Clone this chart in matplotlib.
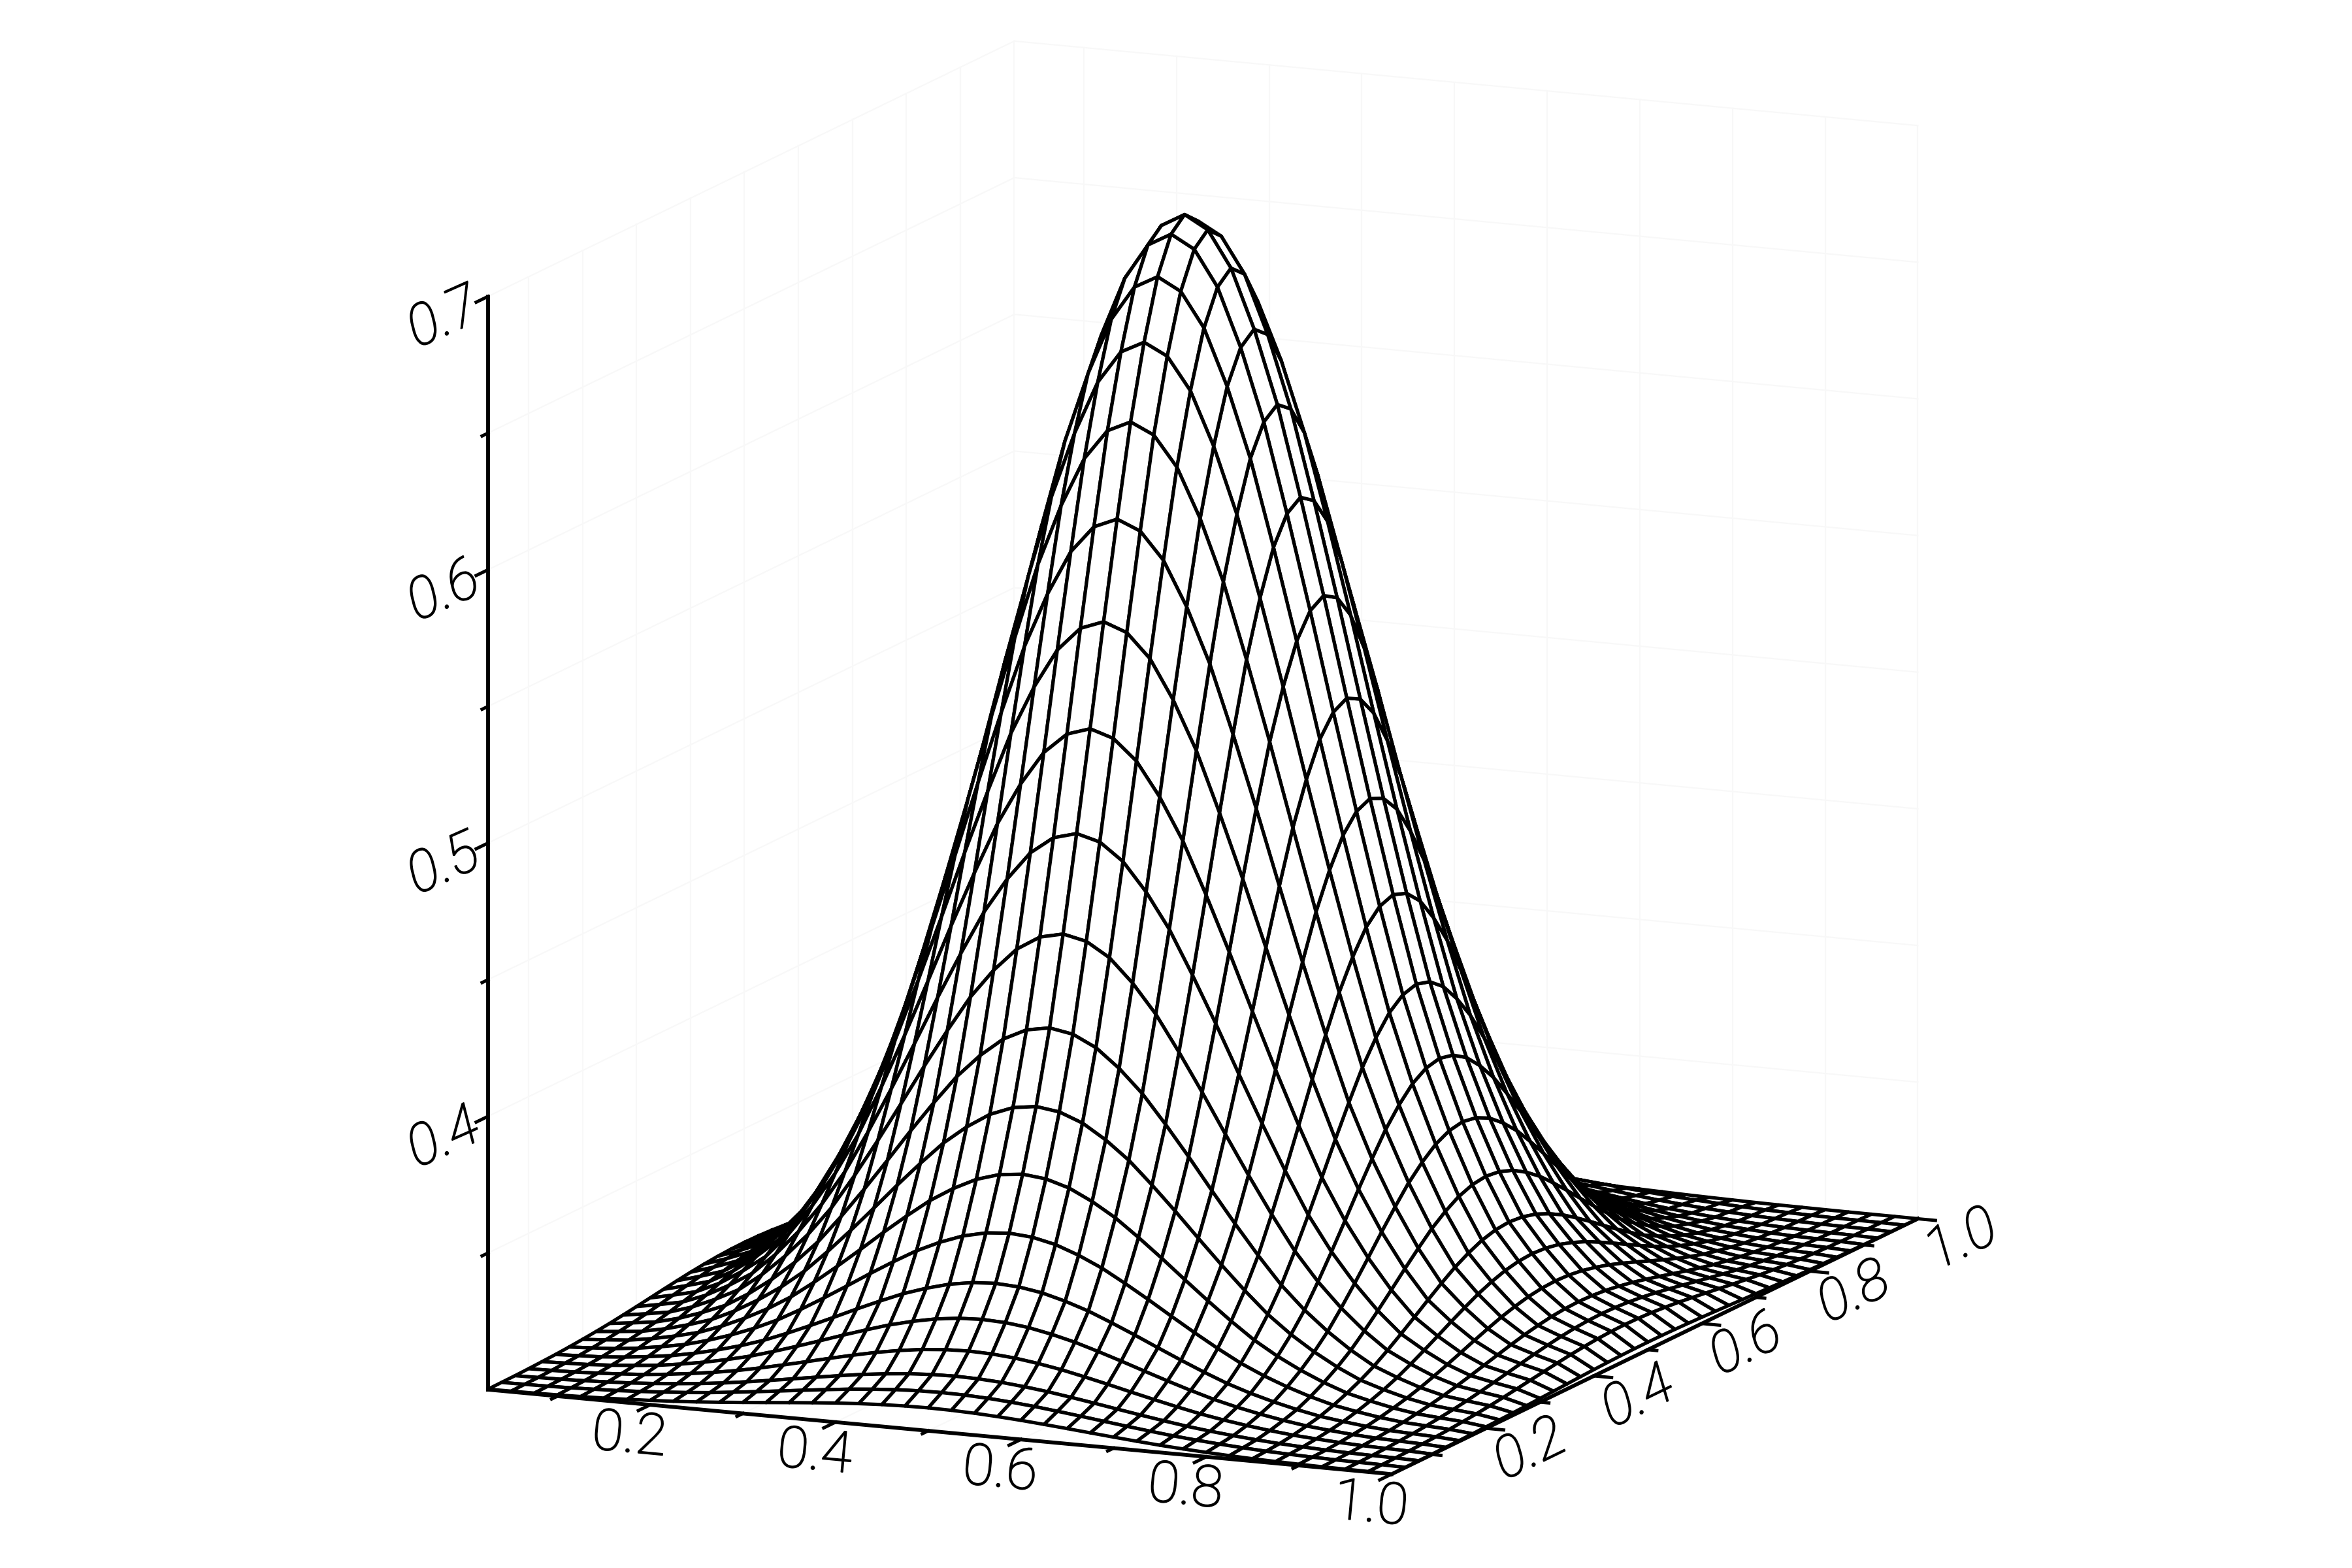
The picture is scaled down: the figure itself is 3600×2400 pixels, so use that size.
import numpy as np
import matplotlib
matplotlib.use("Agg")
import matplotlib.pyplot as plt
import matplotlib.patheffects as pe
from mpl_toolkits.mplot3d import proj3d

# Surface profiles, (z - 0.3) / 0.4 along the ridge lines
x_profile = [0.021, 0.029, 0.038, 0.055, 0.078, 0.105, 0.145, 0.193, 0.249, 0.315,
             0.395, 0.481, 0.571, 0.663, 0.751, 0.834, 0.901, 0.955, 0.988, 1.0,
             0.988, 0.955, 0.901, 0.834, 0.751, 0.663, 0.571, 0.481, 0.395, 0.315,
             0.249, 0.193, 0.145, 0.105, 0.078, 0.055, 0.038, 0.029, 0.021, 0.007]
y_profile = x_profile
z_floor = 0.3
z_height = 0.3995

x_major = [0.2, 0.4, 0.6, 0.8, 1.0]
x_minor = [0.1, 0.3, 0.5, 0.7, 0.9]
y_major = [0.2, 0.4, 0.6, 0.8, 1.0]
y_minor = [0.1, 0.3, 0.5, 0.7, 0.9]
z_major = [0.4, 0.5, 0.6, 0.7]
z_minor = [0.35, 0.45, 0.55, 0.65]
z_top = 0.7

ink = "black"
faint = "#f8f8f8"
label_font = dict(family="Roboto", weight="light", fontsize=21, color=ink,
                  ha="center", va="center", rotation_mode="anchor",
                  path_effects=[pe.withStroke(linewidth=0.45, foreground=ink)])

x_grid = np.linspace(0.025, 1.0, 40)
y_grid = np.linspace(0.025, 1.0, 40)
x0, y0 = x_grid[0], y_grid[0]
X, Y = np.meshgrid(x_grid, y_grid)
Z = z_floor + z_height * np.outer(y_profile, x_profile)

fig = plt.figure(figsize=(12, 8), dpi=300)
ax = fig.add_axes([0, -0.25, 1, 1.5], projection="3d", computed_zorder=False)
ax.set_proj_type("ortho")
ax.view_init(elev=12.3, azim=-66.3)
ax.set_axis_off()

# walls and floor, very faint
x_all = sorted(x_major + x_minor)
y_all = sorted(y_major + y_minor)
z_all = sorted(z_major + z_minor)
for xv in x_all:
    ax.plot([xv, xv], [y0, 1], [z_floor, z_floor], color=faint, lw=0.5, zorder=0)
    ax.plot([xv, xv], [1, 1], [z_floor, z_top], color=faint, lw=0.5, zorder=0)
for yv in y_all:
    ax.plot([x0, 1], [yv, yv], [z_floor, z_floor], color=faint, lw=0.5, zorder=0)
    ax.plot([x0, x0], [yv, yv], [z_floor, z_top], color=faint, lw=0.5, zorder=0)
for zv in z_all:
    ax.plot([x0, x0], [y0, 1], [zv, zv], color=faint, lw=0.5, zorder=0)
    ax.plot([x0, 1], [1, 1], [zv, zv], color=faint, lw=0.5, zorder=0)

ax.plot_surface(X, Y, Z, rstride=1, cstride=1, color="white", edgecolor=ink,
                linewidth=1.25, shade=False, zorder=2)

# axis lines
ax.plot([x0, 1], [y0, y0], [z_floor, z_floor], color=ink, lw=1.4, zorder=1)
ax.plot([1, 1], [y0, 1], [z_floor, z_floor], color=ink, lw=1.4, zorder=1)
ax.plot([x0, x0], [y0, y0], [z_floor, z_top], color=ink, lw=1.4, zorder=3)

# ticks
for xv in x_major:
    ax.plot([xv, xv], [y0, y0 - 0.022], [z_floor, z_floor], color=ink, lw=1.2, zorder=1)
for xv in x_minor:
    ax.plot([xv, xv], [y0, y0 - 0.011], [z_floor, z_floor], color=ink, lw=1.2, zorder=1)
for yv in y_major:
    ax.plot([1, 1.019], [yv, yv], [z_floor, z_floor], color=ink, lw=1.2, zorder=1)
for yv in y_minor:
    ax.plot([1, 1.0095], [yv, yv], [z_floor, z_floor], color=ink, lw=1.2, zorder=1)
for zv in z_major:
    ax.plot([x0, x0], [y0, y0 - 0.022], [zv, zv], color=ink, lw=1.2, zorder=3)
for zv in z_minor:
    ax.plot([x0, x0], [y0, y0 - 0.011], [zv, zv], color=ink, lw=1.2, zorder=3)

ax.set_xlim(x0, 1)
ax.set_ylim(y0, 1)
ax.set_zlim(z_floor, z_top)


def to_pixels(x, y, z):
    ax.apply_aspect()
    ax.M = ax.get_proj()
    px, py, _ = proj3d.proj_transform(x, y, z, ax.M)
    return ax.transData.transform((px, py))


# fit the box to the corner positions in the picture
aspect = (1509, 2002, 1711)
ax.set_box_aspect(aspect)
width_now = to_pixels(1, y0, z_floor)[0] - to_pixels(x0, y0, z_floor)[0]
ax.set_box_aspect(aspect, zoom=1383 / width_now)
corner = to_pixels(x0, y0, z_floor)
dx = (747 - corner[0]) / 3600
dy = (2400 - 2127 - corner[1]) / 2400
ax.set_position([dx, -0.25 + dy, 1, 1.5])


def put_label(x, y, z, value, angle, style):
    px, py = to_pixels(x, y, z)
    fig.text(px / 3600, py / 2400, f"{value:.1f}", rotation=angle, style=style, **label_font)


# tick labels sit off the axes, following the direction of the axis
for xv in x_major:
    put_label(xv + 0.04, y0 - 0.1075, z_floor, xv, -5.4, "normal")
for yv in y_major:
    put_label(1.0815, yv - 0.058, z_floor, yv, 26, "italic")
for zv in z_major:
    put_label(x0, y0 - 0.0817, zv - 0.0005, zv, 24, "italic")

fig.savefig("out.png", dpi=300, facecolor="white")
